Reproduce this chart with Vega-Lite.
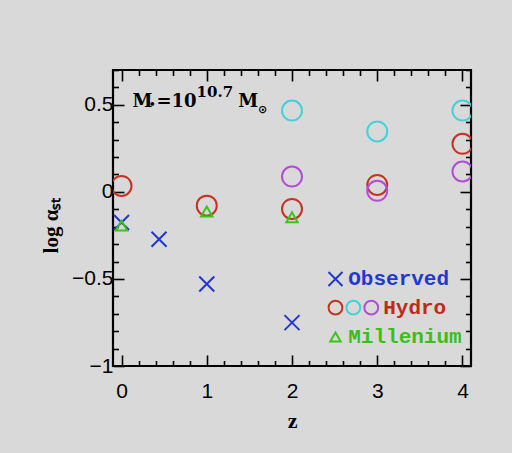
{
  "$schema": "https://vega.github.io/schema/vega-lite/v6.json",
  "width": 358,
  "height": 296,
  "autosize": {"type": "none"},
  "padding": {"left": 113, "top": 70, "right": 41, "bottom": 87},
  "background": "#d9d9d9",
  "config": {
    "view": {"stroke": "#000000", "strokeWidth": 2.2},
    "axis": {"domain": false, "grid": false, "tickColor": "#000000", "tickWidth": 1.6,
             "labelColor": "#000000", "titleColor": "#000000"}
  },
  "datasets": {
    "hydro": [
      {"z": 0, "log_alpha": 0.034, "run": "A"},
      {"z": 1, "log_alpha": -0.079, "run": "A"},
      {"z": 2, "log_alpha": -0.098, "run": "A"},
      {"z": 3, "log_alpha": 0.04, "run": "A"},
      {"z": 4, "log_alpha": 0.276, "run": "A"},
      {"z": 2, "log_alpha": 0.467, "run": "B"},
      {"z": 3, "log_alpha": 0.347, "run": "B"},
      {"z": 4, "log_alpha": 0.467, "run": "B"},
      {"z": 2, "log_alpha": 0.088, "run": "C"},
      {"z": 3, "log_alpha": 0.006, "run": "C"},
      {"z": 4, "log_alpha": 0.117, "run": "C"}
    ],
    "observed": [
      {"z": 0, "log_alpha": -0.176},
      {"z": 0.44, "log_alpha": -0.272},
      {"z": 1, "log_alpha": -0.529},
      {"z": 2, "log_alpha": -0.751}
    ],
    "millenium": [
      {"z": 0, "log_alpha": -0.194},
      {"z": 1, "log_alpha": -0.113},
      {"z": 2, "log_alpha": -0.146}
    ],
    "key_hydro": [
      {"z": 2.51, "log_alpha": -0.665, "run": "A"},
      {"z": 2.72, "log_alpha": -0.665, "run": "B"},
      {"z": 2.93, "log_alpha": -0.665, "run": "C"}
    ],
    "key_observed": [{"z": 2.51, "log_alpha": -0.5}],
    "key_millenium": [{"z": 2.51, "log_alpha": -0.833}],
    "key_labels": [
      {"z": 2.66, "log_alpha": -0.5, "label": "Observed"},
      {"z": 3.07, "log_alpha": -0.665, "label": "Hydro"},
      {"z": 2.66, "log_alpha": -0.833, "label": "Millenium"}
    ],
    "note_main": [
      {"z": 0.13, "log_alpha": 0.489, "piece": "M"},
      {"z": 0.41, "log_alpha": 0.489, "piece": "=10"},
      {"z": 1.37, "log_alpha": 0.489, "piece": "M"}
    ],
    "note_sub": [
      {"z": 0.318, "log_alpha": 0.481, "piece": "•"},
      {"z": 1.6, "log_alpha": 0.455, "piece": "⊙"}
    ],
    "note_sup": [
      {"z": 0.88, "log_alpha": 0.546, "piece": "10.7"}
    ]
  },
  "encoding": {
    "x": {"field": "z", "type": "quantitative",
          "scale": {"domain": [-0.1, 4.1], "nice": false, "zero": false}},
    "y": {"field": "log_alpha", "type": "quantitative",
          "scale": {"domain": [-1, 0.7], "nice": false, "zero": false}}
  },
  "layer": [
    {
      "data": {"name": "hydro"},
      "mark": {"type": "point", "shape": "circle", "filled": false, "size": 400, "strokeWidth": 2, "opacity": 1, "clip": true},
      "encoding": {
        "x": {"field": "z", "type": "quantitative",
              "axis": {"orient": "bottom", "title": "z",
                       "values": [0, 0.2, 0.4, 0.6, 0.8, 1, 1.2, 1.4, 1.6, 1.8, 2, 2.2, 2.4, 2.6, 2.8, 3, 3.2, 3.4, 3.6, 3.8, 4],
                       "labelExpr": "abs(datum.value - round(datum.value)) < 0.01 ? format(datum.value, 'd') : ''",
                       "tickSize": {"condition": {"test": "abs(datum.value - round(datum.value)) < 0.01", "value": -11}, "value": -5.5},
                       "labelFont": "Liberation Sans", "labelFontSize": 21, "labelPadding": 25,
                       "titleFont": "Liberation Serif", "titleFontWeight": "bold", "titleFontSize": 22,
                       "titleY": 54, "titleBaseline": "middle"}},
        "y": {"field": "log_alpha", "type": "quantitative",
              "axis": {"orient": "left", "title": "log αₛₜ",
                       "values": [-1, -0.9, -0.8, -0.7, -0.6, -0.5, -0.4, -0.3, -0.2, -0.1, 0, 0.1, 0.2, 0.3, 0.4, 0.5, 0.6, 0.7],
                       "labelExpr": "abs(datum.value * 2 - round(datum.value * 2)) < 0.01 ? format(datum.value, '~g') : ''",
                       "tickSize": {"condition": {"test": "abs(datum.value * 2 - round(datum.value * 2)) < 0.01", "value": -11}, "value": -5.5},
                       "labelFont": "Liberation Sans", "labelFontSize": 21, "labelPadding": 11,
                       "titleFont": "Liberation Serif", "titleFontWeight": "bold", "titleFontSize": 21,
                       "titleX": -62, "titleY": 155, "titleBaseline": "middle", "titleAngle": -90}},
        "color": {"field": "run", "type": "nominal",
                  "scale": {"domain": ["A", "B", "C"], "range": ["#c63322", "#44d2da", "#b24ed6"]},
                  "legend": null}
      }
    },
    {
      "data": {"name": "observed"},
      "mark": {"type": "point", "shape": "M-1,-1L1,1M-1,1L1,-1", "filled": false, "size": 225, "strokeWidth": 2, "color": "#2236d0", "opacity": 1, "clip": true},
      "encoding": {
        "x": {"field": "z", "type": "quantitative",
              "axis": {"orient": "top", "labels": false, "title": null,
                       "values": [0, 0.2, 0.4, 0.6, 0.8, 1, 1.2, 1.4, 1.6, 1.8, 2, 2.2, 2.4, 2.6, 2.8, 3, 3.2, 3.4, 3.6, 3.8, 4],
                       "tickSize": {"condition": {"test": "abs(datum.value - round(datum.value)) < 0.01", "value": -11}, "value": -5.5}}},
        "y": {"field": "log_alpha", "type": "quantitative",
              "axis": {"orient": "right", "labels": false, "title": null,
                       "values": [-1, -0.9, -0.8, -0.7, -0.6, -0.5, -0.4, -0.3, -0.2, -0.1, 0, 0.1, 0.2, 0.3, 0.4, 0.5, 0.6, 0.7],
                       "tickSize": {"condition": {"test": "abs(datum.value * 2 - round(datum.value * 2)) < 0.01", "value": -11}, "value": -5.5}}}
      }
    },
    {
      "data": {"name": "millenium"},
      "mark": {"type": "point", "shape": "triangle-up", "filled": false, "size": 130, "strokeWidth": 2, "color": "#3cc41c", "opacity": 1, "clip": true},
      "encoding": {
        "x": {"field": "z", "type": "quantitative", "axis": null},
        "y": {"field": "log_alpha", "type": "quantitative", "axis": null}
      }
    },
    {
      "data": {"name": "key_observed"},
      "mark": {"type": "point", "shape": "M-1,-1L1,1M-1,1L1,-1", "filled": false, "size": 196, "strokeWidth": 2, "color": "#2236d0", "opacity": 1},
      "encoding": {
        "x": {"field": "z", "type": "quantitative", "axis": null},
        "y": {"field": "log_alpha", "type": "quantitative", "axis": null}
      }
    },
    {
      "data": {"name": "key_hydro"},
      "mark": {"type": "point", "shape": "circle", "filled": false, "size": 190, "strokeWidth": 2, "opacity": 1},
      "encoding": {
        "x": {"field": "z", "type": "quantitative", "axis": null},
        "y": {"field": "log_alpha", "type": "quantitative", "axis": null},
        "color": {"field": "run", "type": "nominal",
                  "scale": {"domain": ["A", "B", "C"], "range": ["#c63322", "#44d2da", "#b24ed6"]},
                  "legend": null}
      }
    },
    {
      "data": {"name": "key_millenium"},
      "mark": {"type": "point", "shape": "triangle-up", "filled": false, "size": 110, "strokeWidth": 2, "color": "#3cc41c", "opacity": 1},
      "encoding": {
        "x": {"field": "z", "type": "quantitative", "axis": null},
        "y": {"field": "log_alpha", "type": "quantitative", "axis": null}
      }
    },
    {
      "data": {"name": "key_labels"},
      "mark": {"type": "text", "align": "left", "baseline": "middle", "font": "Liberation Mono", "fontWeight": "bold", "fontSize": 21},
      "encoding": {
        "x": {"field": "z", "type": "quantitative", "axis": null},
        "y": {"field": "log_alpha", "type": "quantitative", "axis": null},
        "text": {"field": "label"},
        "color": {"field": "label", "type": "nominal",
                  "scale": {"domain": ["Observed", "Hydro", "Millenium"], "range": ["#1f3ad4", "#c02a1c", "#38c01a"]},
                  "legend": null}
      }
    },
    {
      "data": {"name": "note_main"},
      "mark": {"type": "text", "align": "left", "baseline": "alphabetic", "font": "DejaVu Serif", "fontWeight": "bold", "fontSize": 18, "color": "#000000"},
      "encoding": {
        "x": {"field": "z", "type": "quantitative", "axis": null},
        "y": {"field": "log_alpha", "type": "quantitative", "axis": null},
        "text": {"field": "piece"}
      }
    },
    {
      "data": {"name": "note_sub"},
      "mark": {"type": "text", "align": "left", "baseline": "alphabetic", "font": "DejaVu Sans", "fontWeight": "bold", "fontSize": 11, "color": "#000000"},
      "encoding": {
        "x": {"field": "z", "type": "quantitative", "axis": null},
        "y": {"field": "log_alpha", "type": "quantitative", "axis": null},
        "text": {"field": "piece"}
      }
    },
    {
      "data": {"name": "note_sup"},
      "mark": {"type": "text", "align": "left", "baseline": "alphabetic", "font": "DejaVu Serif", "fontWeight": "bold", "fontSize": 15, "color": "#000000"},
      "encoding": {
        "x": {"field": "z", "type": "quantitative", "axis": null},
        "y": {"field": "log_alpha", "type": "quantitative", "axis": null},
        "text": {"field": "piece"}
      }
    }
  ],
  "resolve": {
    "axis": {"x": "independent", "y": "independent"},
    "scale": {"color": "independent"}
  }
}
